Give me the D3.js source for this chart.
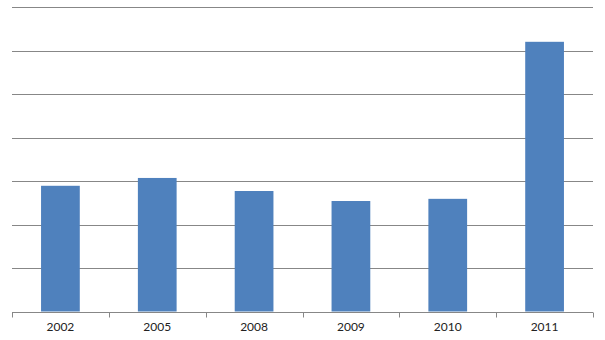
<!DOCTYPE html>
<html>
<head>
<meta charset="utf-8">
<script src="https://cdn.jsdelivr.net/npm/d3@7"></script>
<style>
  body { margin: 0; background: #fff; }
  svg { display: block; }
</style>
</head>
<body>
<div id="chart"></div>
<script>
var years = ["2002", "2005", "2008", "2009", "2010", "2011"];
var values = [28.9, 30.7, 27.7, 25.4, 25.9, 62.0];
var gridTicks = [0, 10, 20, 30, 40, 50, 60, 70];

var width = 605, height = 340;
var margin = {top: 7, right: 12, bottom: 28.5, left: 12};

var svg = d3.select("#chart").append("svg")
    .attr("width", width)
    .attr("height", height);

var x = d3.scaleBand()
    .domain(years)
    .range([margin.left, width - margin.right])
    .paddingInner(0.6)
    .paddingOuter(0.3);

var y = d3.scaleLinear()
    .domain([0, 70])
    .range([height - margin.bottom, margin.top]);

// gridlines
svg.append("g")
    .selectAll("line")
    .data(gridTicks.slice(1))
    .enter().append("line")
    .attr("x1", margin.left)
    .attr("x2", width - margin.right)
    .attr("y1", function(d){ return Math.round(y(d)) + 0.5; })
    .attr("y2", function(d){ return Math.round(y(d)) + 0.5; })
    .attr("stroke", "#878787")
    .attr("stroke-width", 1);

// bars
svg.append("g")
    .selectAll("rect")
    .data(values)
    .enter().append("rect")
    .attr("x", function(d, i){ return x(years[i]); })
    .attr("width", x.bandwidth())
    .attr("y", function(d){ return y(d); })
    .attr("height", function(d){ return y(0) - y(d); })
    .attr("fill", "#4F81BD");

// x axis
var base = Math.round(y(0)) + 0.5;
var step = x.step();
var edges = d3.range(years.length + 1).map(function(i){ return margin.left + i * (width - margin.left - margin.right) / years.length; });

svg.append("line")
    .attr("x1", margin.left)
    .attr("x2", width - margin.right)
    .attr("y1", base)
    .attr("y2", base)
    .attr("stroke", "#878787");

svg.append("g")
    .selectAll("line")
    .data(edges)
    .enter().append("line")
    .attr("x1", function(d){ return Math.round(d) + 0.5; })
    .attr("x2", function(d){ return Math.round(d) + 0.5; })
    .attr("y1", base)
    .attr("y2", base + 5)
    .attr("stroke", "#878787");

svg.append("g")
    .selectAll("text")
    .data(years)
    .enter().append("text")
    .attr("x", function(d){ return x(d) + x.bandwidth() / 2; })
    .attr("y", base + 18)
    .attr("text-anchor", "middle")
    .attr("font-family", "Lato, 'Liberation Sans', sans-serif")
    .attr("font-size", "12px")
    .attr("fill", "#222")
    .text(function(d){ return d; });
</script>
</body>
</html>
